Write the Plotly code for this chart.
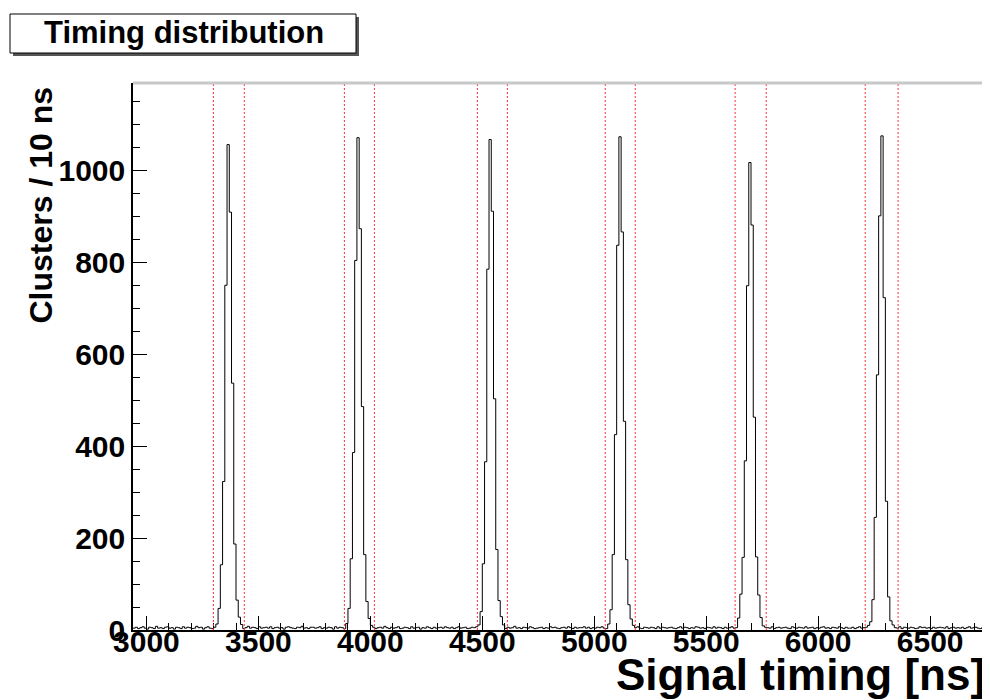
import plotly.graph_objects as go

# ---------------- data ----------------
bin_width = 10
hist_start = 2940
background = [
    4,6,3,5,7,4,2,6,5,3,8,4,5,3,6,7,4,5,2,6,
    5,3,7,4,6,5,3,4,8,5,6,2,5,7,4,3,6,5,4,7,
    3,5,6,4,2,7,5,4,6,3,5,8,4,6,5,3,7,4,5,6,
    4,7,3,5,6,4,5,2,6,7,5,4,3,6,5,8,4,5,3,6,
    6,4,5,7,3,5,4,6,5,2,7,4,6,5,3,4,7,5,6,4,
    5,3,6,4,7,5,4,6,3,5,6,4,8,5,3,6,4,5,7,3,
    4,6,5,3,7,4,5,6,2,5,4,7,5,3,6,4,5,6,4,7,
    5,4,6,3,5,7,4,5,6,3,4,6,5,7,3,5,4,6,5,4,
    6,3,5,4,7,5,3,6,4,5,8,4,5,3,6,5,4,7,5,3,
    4,5,6,3,5,4,7,5,6,4,3,5,6,4,7,5,3,6,4,5,
    5,7,4,6,3,5,4,6,5,7,4,3,5,6,4,5,7,3,6,4,
    3,5,6,4,5,7,4,3,6,5,4,6,5,3,7,4,6,5,4,5,
    6,4,3,5,7,4,6,5,3,5,4,7,6,4,5,3,6,5,4,7,
    4,6,5,3,6,4,5,7,4,5,6,3,5,4,6,7,4,5,3,6,
    5,3,6,5,4,7,3,5,6,4,5,6,4,3,7,5,4,6,5,4,
    7,4,5,6,3,5,4,6,7,4,5,3,6,5,4,7,5,3,6,4,
    4,6,3,5,7,4,5,6,4,3,6,5,7,4,5,6,3,5,4,6,
    5,4,7,3,6,5,4,6,5,3,4,7,5,6,4,5,3,6,4,5,
    6,5,4,7,3,5,6,4,5,4,6,3,5,7,4,5,6,4,3,5,
]
peak_starts = [3310, 3890, 4480, 5060, 5640, 6220]
peak_1 = [8, 43, 135, 320, 745, 1050, 905, 535, 180, 60, 24, 6]
peak_2 = [10, 40, 150, 380, 800, 1066, 870, 480, 160, 55, 20, 6]
peak_3 = [8, 35, 140, 360, 780, 1063, 905, 500, 170, 60, 22, 6]
peak_4 = [8, 38, 160, 420, 830, 1070, 860, 450, 150, 50, 18, 6]
peak_5 = [20, 75, 153, 364, 743, 1010, 877, 458, 156, 70, 22, 6]
peak_6 = [6, 15, 60, 240, 548, 897, 1070, 717, 277, 67, 16, 5]
peaks = [peak_1, peak_2, peak_3, peak_4, peak_5, peak_6]
window_lines = [3299, 3437, 3884, 4018, 4478, 4612, 5049, 5183, 5629, 5768, 6210, 6357]

x_range = [2940, 6745]
y_range = [0, 1190]
x_ticks = [3000, 3500, 4000, 4500, 5000, 5500, 6000, 6500]
y_ticks = [0, 200, 400, 600, 800, 1000]

# ---------------- build histogram ----------------
counts = list(background)
for start, pk in zip(peak_starts, peaks):
    i0 = (start - hist_start) // bin_width
    for k, v in enumerate(pk):
        counts[i0 + k] += v
edges = [hist_start + bin_width * i for i in range(len(counts) + 1)]
yvals = counts + [counts[-1]]

# page pixel geometry (page has an 8px body margin)
OFF = 8
L, R, T, B = 133 - OFF, 985 - OFF, 83 - OFF, 630 - OFF
W, H = 990 - OFF, 700 - OFF


def px(xp):  # page px -> paper
    return (xp - OFF - L) / (R - L)


def py(yp):
    return (B - (yp - OFF)) / (B - T)


FONT = "Liberation Sans"

fig = go.Figure()
fig.add_trace(go.Scatter(
    x=edges, y=yvals, mode="lines", line_shape="hv",
    line=dict(color="black", width=1), hoverinfo="skip", showlegend=False,
))

shapes = []
for xv in window_lines:
    shapes.append(dict(type="line", xref="x", yref="paper", x0=xv, x1=xv, y0=0, y1=1,
                       line=dict(color="#ff3030", width=1, dash="2px,2px")))
# frame top/right (grey)
shapes.append(dict(type="line", xref="paper", yref="paper", x0=0, x1=1, y0=1, y1=1,
                   line=dict(color="#c8c8c8", width=3)))
shapes.append(dict(type="line", xref="paper", yref="paper", x0=1, x1=1, y0=0, y1=1,
                   line=dict(color="#c8c8c8", width=2)))
# title box shadow + box
shapes.append(dict(type="rect", xref="paper", yref="paper",
                   x0=px(13), x1=px(359), y0=py(56), y1=py(17),
                   fillcolor="#555555", line=dict(width=0)))
shapes.append(dict(type="rect", xref="paper", yref="paper",
                   x0=px(10), x1=px(356), y0=py(53), y1=py(14),
                   fillcolor="white", line=dict(color="black", width=1)))

annotations = [
    dict(text="Timing distribution", xref="paper", yref="paper",
         x=px(184), y=py(33), xanchor="center", yanchor="middle", showarrow=False,
         font=dict(family=FONT, size=31, color="black", weight="bold")),
    dict(text="Clusters / 10 ns", xref="paper", yref="paper",
         x=px(40), y=py(85), xanchor="center", yanchor="top", textangle=-90,
         showarrow=False, font=dict(family=FONT, size=32, color="black", weight="bold")),
    dict(text="Signal timing [ns]", xref="paper", yref="paper",
         x=px(987), y=py(674), xanchor="right", yanchor="middle",
         showarrow=False, font=dict(family=FONT, size=44, color="black", weight="bold")),
]

fig.update_layout(
    width=W, height=H,
    margin=dict(l=L, r=W - R, t=T, b=H - B),
    paper_bgcolor="white", plot_bgcolor="white",
    shapes=shapes, annotations=annotations,
    xaxis=dict(range=x_range, tickmode="array", tickvals=x_ticks,
               ticktext=[str(v) for v in x_ticks],
               showgrid=False, zeroline=False, showline=True, linecolor="black", linewidth=1.5,
               ticks="inside", ticklen=14, tickcolor="black", tickwidth=1,
               ticklabelstandoff=-16,
               minor=dict(dtick=100, tick0=3000, ticks="inside", ticklen=7, tickcolor="black"),
               tickfont=dict(family=FONT, size=30, color="black", weight="bold")),
    yaxis=dict(range=y_range, tickmode="array", tickvals=y_ticks,
               ticktext=[str(v) for v in y_ticks],
               showgrid=False, zeroline=False, showline=True, linecolor="black", linewidth=1.5,
               ticks="inside", ticklen=14, tickcolor="black", tickwidth=1,
               ticklabelstandoff=0,
               minor=dict(dtick=50, tick0=0, ticks="inside", ticklen=7, tickcolor="black"),
               tickfont=dict(family=FONT, size=30, color="black", weight="bold")),
)

fig.write_html("out.html")
